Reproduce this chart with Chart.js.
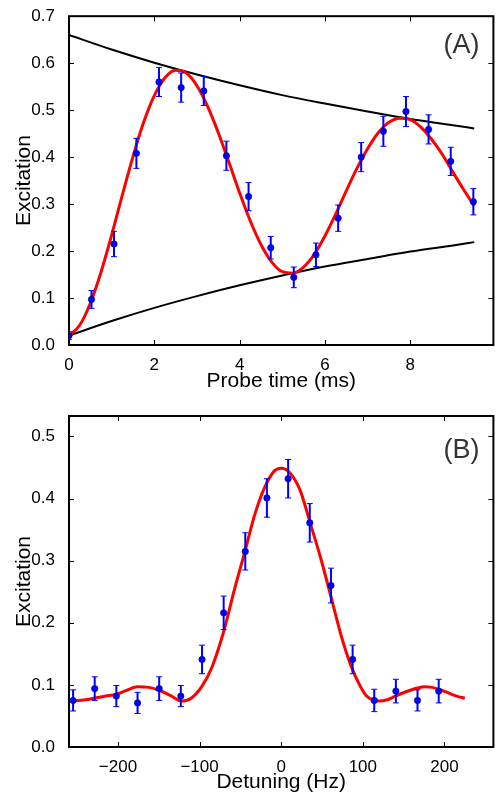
<!DOCTYPE html>
<html>
<head>
<meta charset="utf-8">
<script src="https://cdn.jsdelivr.net/npm/chart.js@4.4.0/dist/chart.umd.min.js"></script>
<style>
  html, body { margin: 0; padding: 0; background: #fff; overflow: hidden; }
  #wrap { position: relative; width: 498px; height: 796px; }
  canvas { position: absolute; left: 0; }
  #chartA { top: 0; }
  #chartB { top: 398px; }
</style>
</head>
<body>
<div id="wrap">
  <canvas id="chartA" width="498" height="398"></canvas>
  <canvas id="chartB" width="498" height="398"></canvas>
</div>
<script>
// ---- Panel (A): excitation vs probe time ----
const probeTime = [0, 0.527, 1.055, 1.58, 2.11, 2.63, 3.16, 3.69, 4.21, 4.73, 5.27, 5.79, 6.31, 6.85, 7.37, 7.90, 8.43, 8.95, 9.48];
const excitationA = [0.020, 0.097, 0.215, 0.408, 0.560, 0.548, 0.541, 0.403, 0.316, 0.207, 0.144, 0.192, 0.270, 0.400, 0.455, 0.497, 0.459, 0.391, 0.305];
const errorA = [0.008, 0.019, 0.027, 0.032, 0.031, 0.031, 0.031, 0.031, 0.030, 0.024, 0.022, 0.025, 0.028, 0.031, 0.032, 0.032, 0.031, 0.030, 0.028];

// red fit curve
const fitTimeA = [0, 0.25, 0.5, 0.75, 1, 1.25, 1.5, 1.75, 2, 2.25, 2.5, 2.75, 3, 3.25, 3.5, 3.75, 4, 4.25, 4.5, 4.75,
                  5, 5.25, 5.5, 5.75, 6, 6.25, 6.5, 6.75, 7, 7.25, 7.5, 7.75, 8, 8.25, 8.5, 8.75, 9, 9.25, 9.5];
const fitA = [0.020, 0.042, 0.089, 0.155, 0.234, 0.319, 0.401, 0.474, 0.531, 0.569, 0.585, 0.579, 0.552, 0.508, 0.452, 0.389, 0.324, 0.264, 0.214, 0.177,
              0.156, 0.153, 0.166, 0.193, 0.232, 0.278, 0.328, 0.376, 0.418, 0.452, 0.474, 0.483, 0.480, 0.464, 0.438, 0.406, 0.368, 0.331, 0.296];

// black decay envelopes
const envTime = [0, 1, 2, 3, 4, 5, 6, 7, 8, 9, 9.5];
const envUpper = [0.660, 0.629, 0.601, 0.576, 0.553, 0.532, 0.514, 0.497, 0.481, 0.468, 0.461];
const envLower = [0.020, 0.051, 0.079, 0.104, 0.127, 0.148, 0.167, 0.183, 0.199, 0.212, 0.219];

const xTicksA = [0, 2, 4, 6, 8];
const yTicksA = [0, 0.1, 0.2, 0.3, 0.4, 0.5, 0.6, 0.7];

// ---- Panel (B): excitation vs detuning ----
const detuning = [-255, -228.5, -202, -176, -149.5, -123, -97, -70.5, -44, -17.5, 8.5, 35, 61, 87.5, 114, 140.5, 167, 193];
const excitationB = [0.075, 0.094, 0.082, 0.071, 0.094, 0.082, 0.141, 0.216, 0.315, 0.401, 0.432, 0.361, 0.260, 0.141, 0.075, 0.090, 0.075, 0.090];
const errorB = [0.017, 0.019, 0.017, 0.017, 0.019, 0.017, 0.023, 0.027, 0.030, 0.031, 0.031, 0.031, 0.028, 0.023, 0.018, 0.019, 0.017, 0.019];

const fitDetuning = [-257, -240, -228, -215, -202, -190, -176, -162, -149, -136, -122, -110, -97, -85, -70, -58, -44, -32, -20, -8, 0,
                     11, 23, 35, 48, 62, 74, 86, 96, 104, 112, 120, 130, 140, 153, 167, 176, 185, 193, 205, 215, 225];
const fitB = [0.074, 0.076, 0.079, 0.082, 0.085, 0.091, 0.097, 0.096, 0.091, 0.083, 0.074, 0.079, 0.098, 0.128, 0.188, 0.250, 0.317, 0.376, 0.419, 0.445, 0.449,
              0.441, 0.414, 0.363, 0.306, 0.237, 0.177, 0.129, 0.100, 0.083, 0.076, 0.074, 0.076, 0.082, 0.089, 0.095, 0.097, 0.096, 0.093, 0.087, 0.082, 0.0785];

const xTicksB = [-200, -100, 0, 100, 200];
const yTicksB = [0, 0.1, 0.2, 0.3, 0.4, 0.5];

const FONT = "'Liberation Sans', Arial, sans-serif";
Chart.defaults.font.family = FONT;
Chart.defaults.color = '#000';

const pts = (xs, ys) => xs.map((x, i) => ({ x, y: ys[i] }));

// inward ticks on all four sides + black frame (matplotlib look)
const frame = {
  id: 'frame',
  beforeDatasetsDraw(chart) {
    const { ctx, chartArea: a, scales } = chart;
    const seg = (x1, y1, x2, y2) => { ctx.beginPath(); ctx.moveTo(x1, y1); ctx.lineTo(x2, y2); ctx.stroke(); };
    ctx.save();
    ctx.strokeStyle = '#000';
    ctx.lineWidth = 1;
    scales.x.ticks.forEach(t => {
      const px = Math.round(scales.x.getPixelForValue(t.value)) + 0.5;
      seg(px, a.bottom, px, a.bottom - 5);
      seg(px, a.top, px, a.top + 5);
    });
    scales.y.ticks.forEach(t => {
      const py = Math.round(scales.y.getPixelForValue(t.value)) + 0.5;
      seg(a.left, py, a.left + 5, py);
      seg(a.right, py, a.right - 5, py);
    });
    ctx.lineWidth = 2;
    ctx.strokeRect(a.left, a.top, a.right - a.left, a.bottom - a.top);
    ctx.restore();
  }
};

const errorBars = {
  id: 'errorBars',
  beforeDatasetDraw(chart, args) {
    const ds = chart.data.datasets[args.index];
    if (!ds.errors) return;
    const { ctx, chartArea: a, scales: { x, y } } = chart;
    const seg = (x1, y1, x2, y2) => { ctx.beginPath(); ctx.moveTo(x1, y1); ctx.lineTo(x2, y2); ctx.stroke(); };
    ctx.save();
    ctx.beginPath();
    ctx.rect(a.left, a.top, a.right - a.left, a.bottom - a.top);
    ctx.clip();
    ctx.strokeStyle = '#0000ff';
    ds.data.forEach((p, i) => {
      const px = x.getPixelForValue(p.x);
      const hi = y.getPixelForValue(p.y + ds.errors[i]);
      const lo = y.getPixelForValue(p.y - ds.errors[i]);
      ctx.lineWidth = 2;
      seg(px, hi, px, lo);
      ctx.lineWidth = 1;
      seg(px - 3, hi, px + 3, hi);
      seg(px - 3, lo, px + 3, lo);
    });
    ctx.restore();
  }
};

const panelLabel = {
  id: 'panelLabel',
  afterDraw(chart, args, opts) {
    const { ctx, chartArea: a } = chart;
    ctx.save();
    ctx.font = '27px ' + FONT;
    ctx.fillStyle = '#333';
    ctx.textAlign = 'right';
    ctx.textBaseline = 'middle';
    ctx.fillText(opts.text, a.right - 14, a.top + opts.dy);
    ctx.restore();
  }
};

function makePanel(id, p) {
  return new Chart(document.getElementById(id), {
    type: 'scatter',
    data: {
      datasets: [
        {
          data: pts(p.xs, p.ys),
          errors: p.errs,
          pointRadius: 3.2,
          backgroundColor: '#0000ff',
          borderColor: '#00008b',
          borderWidth: 0.6
        },
        {
          data: pts(p.fitX, p.fitY),
          showLine: true,
          pointRadius: 0,
          borderColor: '#ff0000',
          borderWidth: 3,
          cubicInterpolationMode: 'monotone'
        },
        ...(p.env || []).map(e => ({
          data: pts(e.x, e.y),
          showLine: true,
          pointRadius: 0,
          borderColor: '#000',
          borderWidth: 2,
          cubicInterpolationMode: 'monotone'
        }))
      ]
    },
    options: {
      responsive: false,
      animation: false,
      devicePixelRatio: 1,
      layout: { padding: { left: 0, right: 2, top: p.padTop, bottom: 0 } },
      plugins: {
        legend: { display: false },
        tooltip: { enabled: false },
        panelLabel: { text: p.label, dy: p.labelDy }
      },
      scales: {
        x: {
          type: 'linear',
          min: p.xMin, max: p.xMax,
          grid: { display: false },
          border: { display: false },
          afterBuildTicks: s => { s.ticks = p.xTicks.map(v => ({ value: v })); },
          afterFit: s => { s.height = p.xHeight; },
          ticks: {
            padding: 2,
            font: { size: 17 },
            color: '#000',
            callback: v => (v < 0 ? '\u2212' + Math.abs(v) : String(v))
          },
          title: {
            display: true,
            text: p.xTitle,
            color: '#000',
            font: { size: 21 },
            padding: { top: 0, bottom: p.xTitlePad }
          }
        },
        y: {
          type: 'linear',
          min: 0, max: p.yMax,
          grid: { display: false },
          border: { display: false },
          afterBuildTicks: s => { s.ticks = p.yTicks.map(v => ({ value: v })); },
          afterFit: s => { s.width = 69; },
          ticks: {
            padding: 6,
            font: { size: 17 },
            color: '#000',
            callback: v => v.toFixed(1)
          },
          title: {
            display: true,
            text: 'Excitation',
            color: '#000',
            font: { size: 21 },
            padding: { top: 12, bottom: 0 }
          }
        }
      }
    },
    plugins: [frame, errorBars, panelLabel]
  });
}

makePanel('chartA', {
  xs: probeTime, ys: excitationA, errs: errorA,
  fitX: fitTimeA, fitY: fitA,
  env: [{ x: envTime, y: envUpper }, { x: envTime, y: envLower }],
  xMin: 0, xMax: 9.95, yMax: 0.7,
  xTicks: xTicksA, yTicks: yTicksA,
  xTitle: 'Probe time (ms)',
  padTop: 15, xHeight: 53, xTitlePad: 4,
  label: '(A)', labelDy: 29
});

makePanel('chartB', {
  xs: detuning, ys: excitationB, errs: errorB,
  fitX: fitDetuning, fitY: fitB,
  xMin: -260, xMax: 260, yMax: 0.533,
  xTicks: xTicksB, yTicks: yTicksB,
  xTitle: 'Detuning (Hz)',
  padTop: 18, xHeight: 49, xTitlePad: 1,
  label: '(B)', labelDy: 35
});
</script>
</body>
</html>
